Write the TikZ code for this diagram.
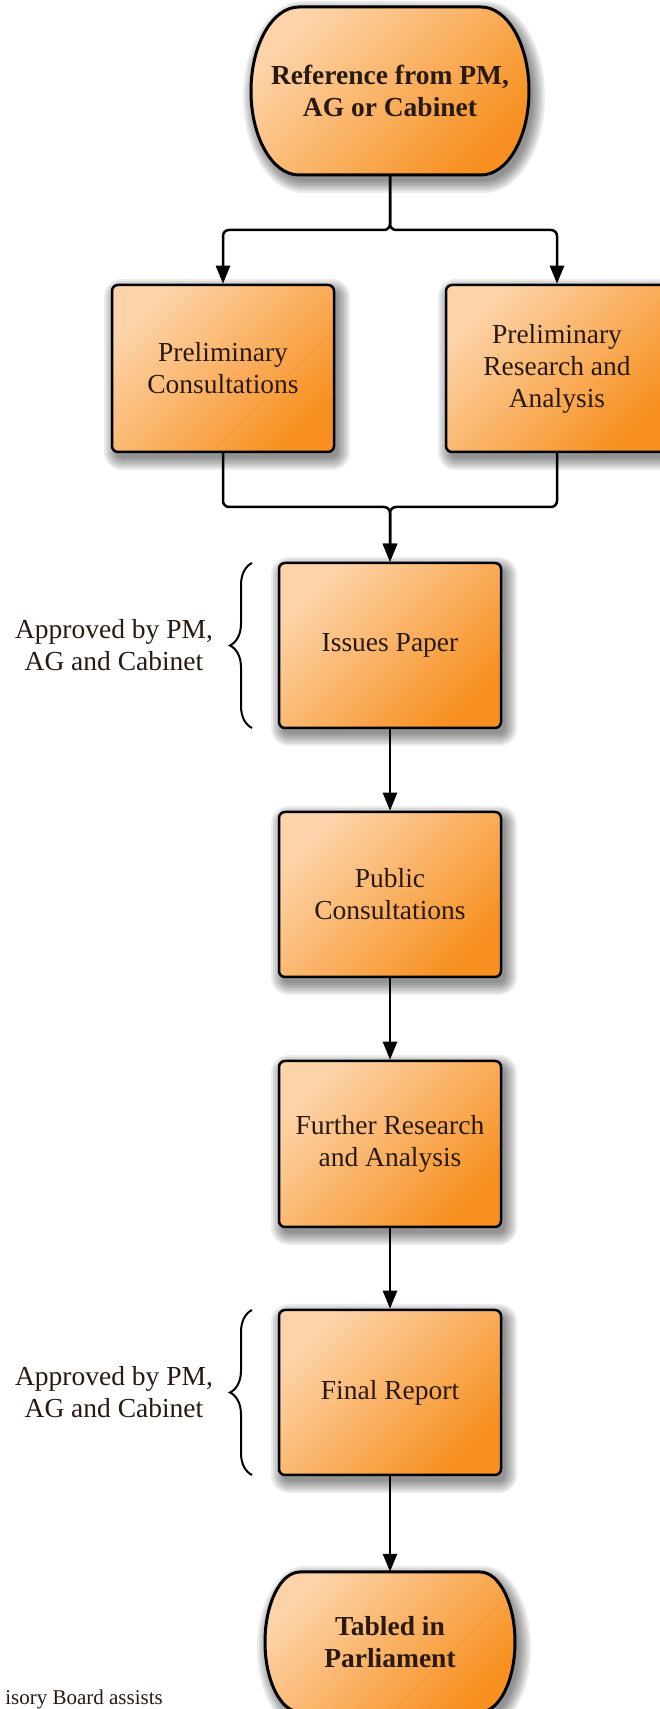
\documentclass[tikz,border=0pt]{standalone}
\usepackage{fontspec}
\setmainfont{Liberation Serif}
\usetikzlibrary{arrows.meta,decorations.pathreplacing}
\definecolor{orLight}{RGB}{253,212,170}
\definecolor{orMid}{RGB}{250,170,88}
\definecolor{orDark}{RGB}{247,144,32}
\definecolor{txt}{RGB}{40,26,18}
\newcommand\regfont{\fontsize{27.5}{32}\selectfont}
\newcommand\termfont{\fontsize{27.5}{32}\selectfont\bfseries}
\newcommand\smallnote{\fontsize{21}{25}\selectfont}
% outline of a terminal: centre x, centre y, half flat width, half height, end radius
\newcommand\termoutline[5]{(#1-#3,#2+#4) -- (#1+#3,#2+#4)
  arc[start angle=90, end angle=-90, x radius=#5, y radius=#4]
  -- (#1-#3,#2-#4)
  arc[start angle=270, end angle=90, x radius=#5, y radius=#4] -- cycle}
% soft shadow of a box: centre x, centre y, width, height
\newcommand\rectshadow[4]{%
  \foreach \e in {12,10,8,6,4,2,0}{%
    \pgfmathsetmacro\xa{#1+4-#3/2-\e}%
    \pgfmathsetmacro\ya{#2-6-#4/2-\e}%
    \pgfmathsetmacro\xb{#1+4+#3/2+\e}%
    \pgfmathsetmacro\yb{#2-6+#4/2+\e}%
    \pgfmathsetmacro\rc{6+\e}%
    \fill[shadowfill, rounded corners=\rc pt] (\xa,\ya) rectangle (\xb,\yb);
  }}
% soft shadow of a terminal
\newcommand\termshadow[5]{%
  \foreach \e in {12,10,8,6,4,2,0}{%
    \pgfmathsetmacro\hh{#4+\e}%
    \pgfmathsetmacro\rr{#5+\e}%
    \fill[shadowfill] \termoutline{#1+4}{#2-6}{#3}{\hh}{\rr};
  }}
\tikzset{
  shadowfill/.style={fill=black, opacity=0.075},
  boxshade/.style={top color=orLight, middle color=orMid, bottom color=orDark, shading angle=45},
  procbox/.style={draw=black, line width=2.5pt, rounded corners=6pt, boxshade,
    minimum width=222pt, minimum height=167pt, align=center, inner sep=0pt, font=\regfont, text=txt},
  termtext/.style={align=center, inner sep=0pt, font=\termfont, text=txt},
  termshape/.style={draw=black, line width=3pt, boxshade},
  conn/.style={draw=black, line width=2.5pt, rounded corners=6pt},
  arr/.style={conn, -{Triangle[length=18pt,width=14pt]}},
  bracestyle/.style={draw=black, line width=2pt, decorate, decoration={brace, amplitude=22pt}},
  note/.style={align=center, font=\regfont, text=txt, inner sep=0pt}
}
\begin{document}
\begin{tikzpicture}[x=1pt,y=1pt]
\useasboundingbox (0,0) rectangle (659,1709);
\fill[white] (0,0) rectangle (659,1709);

% shadows
\termshadow{390}{1618}{91}{84}{48}
\termshadow{390}{67}{90}{70}{35}
\rectshadow{223}{1340.5}{222}{167}
\rectshadow{557}{1340.5}{222}{167}
\rectshadow{390}{1063.5}{222}{165}
\rectshadow{390}{814.5}{222}{165}
\rectshadow{390}{565}{222}{166}
\rectshadow{390}{316.5}{222}{165}

% terminal shapes
\path[termshape] \termoutline{390}{1618}{91}{84}{48};
\path[termshape] \termoutline{390}{67}{90}{70}{35};

% terminals (text nodes)
\node[termtext, minimum width=182pt, minimum height=168pt] (ref) at (390,1618) {Reference from PM,\\AG or Cabinet};
\node[termtext, minimum width=180pt, minimum height=140pt] (tabled) at (390,67) {Tabled in\\Parliament};

% process boxes
\node[procbox] (pcons) at (223,1340.5) {Preliminary\\Consultations};
\node[procbox] (pres) at (557,1340.5) {Preliminary\\Research and\\Analysis};
\node[procbox, minimum height=165pt] (issues) at (390,1063.5) {Issues Paper};
\node[procbox, minimum height=165pt] (public) at (390,814.5) {Public\\Consultations};
\node[procbox, minimum height=166pt] (further) at (390,565) {Further Research\\and Analysis};
\node[procbox, minimum height=165pt] (final) at (390,316.5) {Final Report};

% junction points
\coordinate (split) at (390,1479);
\coordinate (merge) at (390,1202);

% connectors
\draw[arr] (ref.south) -- (split) -| (pcons.north);
\draw[arr] (ref.south) -- (split) -| (pres.north);
\draw[arr] (pcons.south) |- (merge) -- (issues.north);
\draw[arr] (pres.south) |- (merge) -- (issues.north);
\draw[arr] (issues.south) -- (public.north);
\draw[arr] (public.south) -- (further.north);
\draw[arr] (further.south) -- (final.north);
\draw[arr] (final.south) -- (tabled.north);

% braces and notes
\coordinate (b1s) at (252,981);
\coordinate (b1e) at (252,1146);
\coordinate (b2s) at (252,234);
\coordinate (b2e) at (252,399);
\draw[bracestyle] (b1s) -- (b1e);
\draw[bracestyle] (b2s) -- (b2e);
\node[note] (appr1) at (114,1063.5) {Approved by PM,\\AG and Cabinet};
\node[note] (appr2) at (114,316.5) {Approved by PM,\\AG and Cabinet};

\node[anchor=base east, font=\smallnote, text=txt, inner sep=0pt] (adv) at (163,5) {isory Board assists};
\end{tikzpicture}
\end{document}
